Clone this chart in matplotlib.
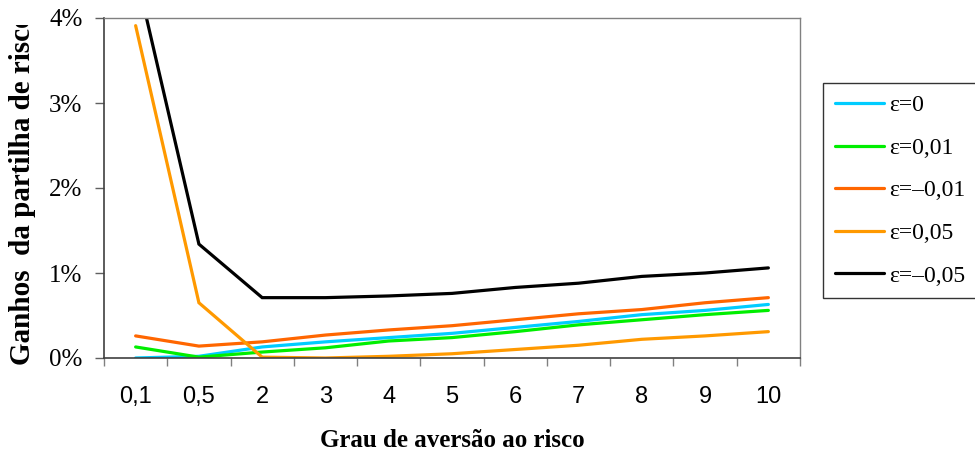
import matplotlib
matplotlib.use("Agg")
import matplotlib.pyplot as plt
from matplotlib.ticker import FixedLocator, FuncFormatter
from matplotlib.transforms import Bbox

categories = ["0,1", "0,5", "2", "3", "4", "5", "6", "7", "8", "9", "10"]
eps0 = [0.000, 0.02, 0.13, 0.19, 0.24, 0.29, 0.36, 0.43, 0.51, 0.56, 0.63]
eps001 = [0.13, 0.01, 0.07, 0.12, 0.20, 0.24, 0.31, 0.39, 0.45, 0.51, 0.56]
epsm001 = [0.26, 0.14, 0.19, 0.27, 0.33, 0.38, 0.45, 0.52, 0.57, 0.65, 0.71]
eps005 = [3.91, 0.65, 0.01, 0.00, 0.02, 0.05, 0.10, 0.15, 0.22, 0.26, 0.31]
epsm005 = [4.55, 1.34, 0.71, 0.71, 0.73, 0.76, 0.83, 0.88, 0.96, 1.00, 1.06]

series = [
    ("\u03b5=0", eps0, "#00CCFF"),
    ("\u03b5=0,01", eps001, "#00EE00"),
    ("\u03b5=\u20130,01", epsm001, "#FF6600"),
    ("\u03b5=0,05", eps005, "#FF9900"),
    ("\u03b5=\u20130,05", epsm005, "#000000"),
]

serif = ['Liberation Serif', 'DejaVu Serif']
plt.rcParams['font.family'] = serif

W, H = 975, 462
fig = plt.figure(figsize=(W/100, H/100), dpi=100)
ax = fig.add_axes([104/W, 1-358/H, (800-104)/W, (358-18)/H])

x = list(range(len(categories)))
for label, vals, col in series:
    ax.plot(x, [v/100 for v in vals], color=col, lw=2.3, label=label,
            solid_capstyle='round', solid_joinstyle='miter')

ax.set_xlim(-0.5, len(categories)-0.5)
ax.set_ylim(0, 0.04)
ax.yaxis.set_major_locator(FixedLocator([0, 0.01, 0.02, 0.03, 0.04]))
ax.yaxis.set_major_formatter(FuncFormatter(lambda v, p: f"{v*100:.0f}%"))
ax.set_xticks(x)
ax.set_xticklabels(categories, family=['Liberation Sans', 'DejaVu Sans'])
ax.set_xticks([i-0.5 for i in range(len(categories)+1)], minor=True)
ax.tick_params(axis='x', which='major', length=0, pad=20.5, labelsize=17)
ax.tick_params(axis='x', which='minor', length=6, width=1, color='#808080', direction='out')
ax.tick_params(axis='y', which='major', length=6.5, width=1, color='#606060', direction='out', labelsize=18, pad=9)
for lbl in ax.get_yticklabels():
    lbl.set_family(serif)
for s in ['top', 'right']:
    ax.spines[s].set_color('#808080')
    ax.spines[s].set_linewidth(1)
for s in ['left', 'bottom']:
    ax.spines[s].set_color('#404040')
    ax.spines[s].set_linewidth(1.2)

ax.set_xlabel("Grau de aversão ao risco", fontsize=18, fontweight='bold', labelpad=15)

t = fig.text(23/W, 1-(365)/H, "Ganhos  da partilha de risco", rotation=90,
             fontsize=21, fontweight='bold', ha='center', va='bottom')
t.set_clip_on(True)
t.set_clip_box(Bbox.from_extents(0, 0, W, H-25))

leg = fig.legend(loc='upper left', bbox_to_anchor=(823/W, 1-83/H),
                 frameon=True, fancybox=False, edgecolor='#000000', fontsize=17,
                 handlelength=2.1, labelspacing=0.89, borderpad=0.5, handletextpad=0.2,
                 borderaxespad=0)
leg.get_frame().set_linewidth(1)

fig.savefig("out.png", dpi=100)
